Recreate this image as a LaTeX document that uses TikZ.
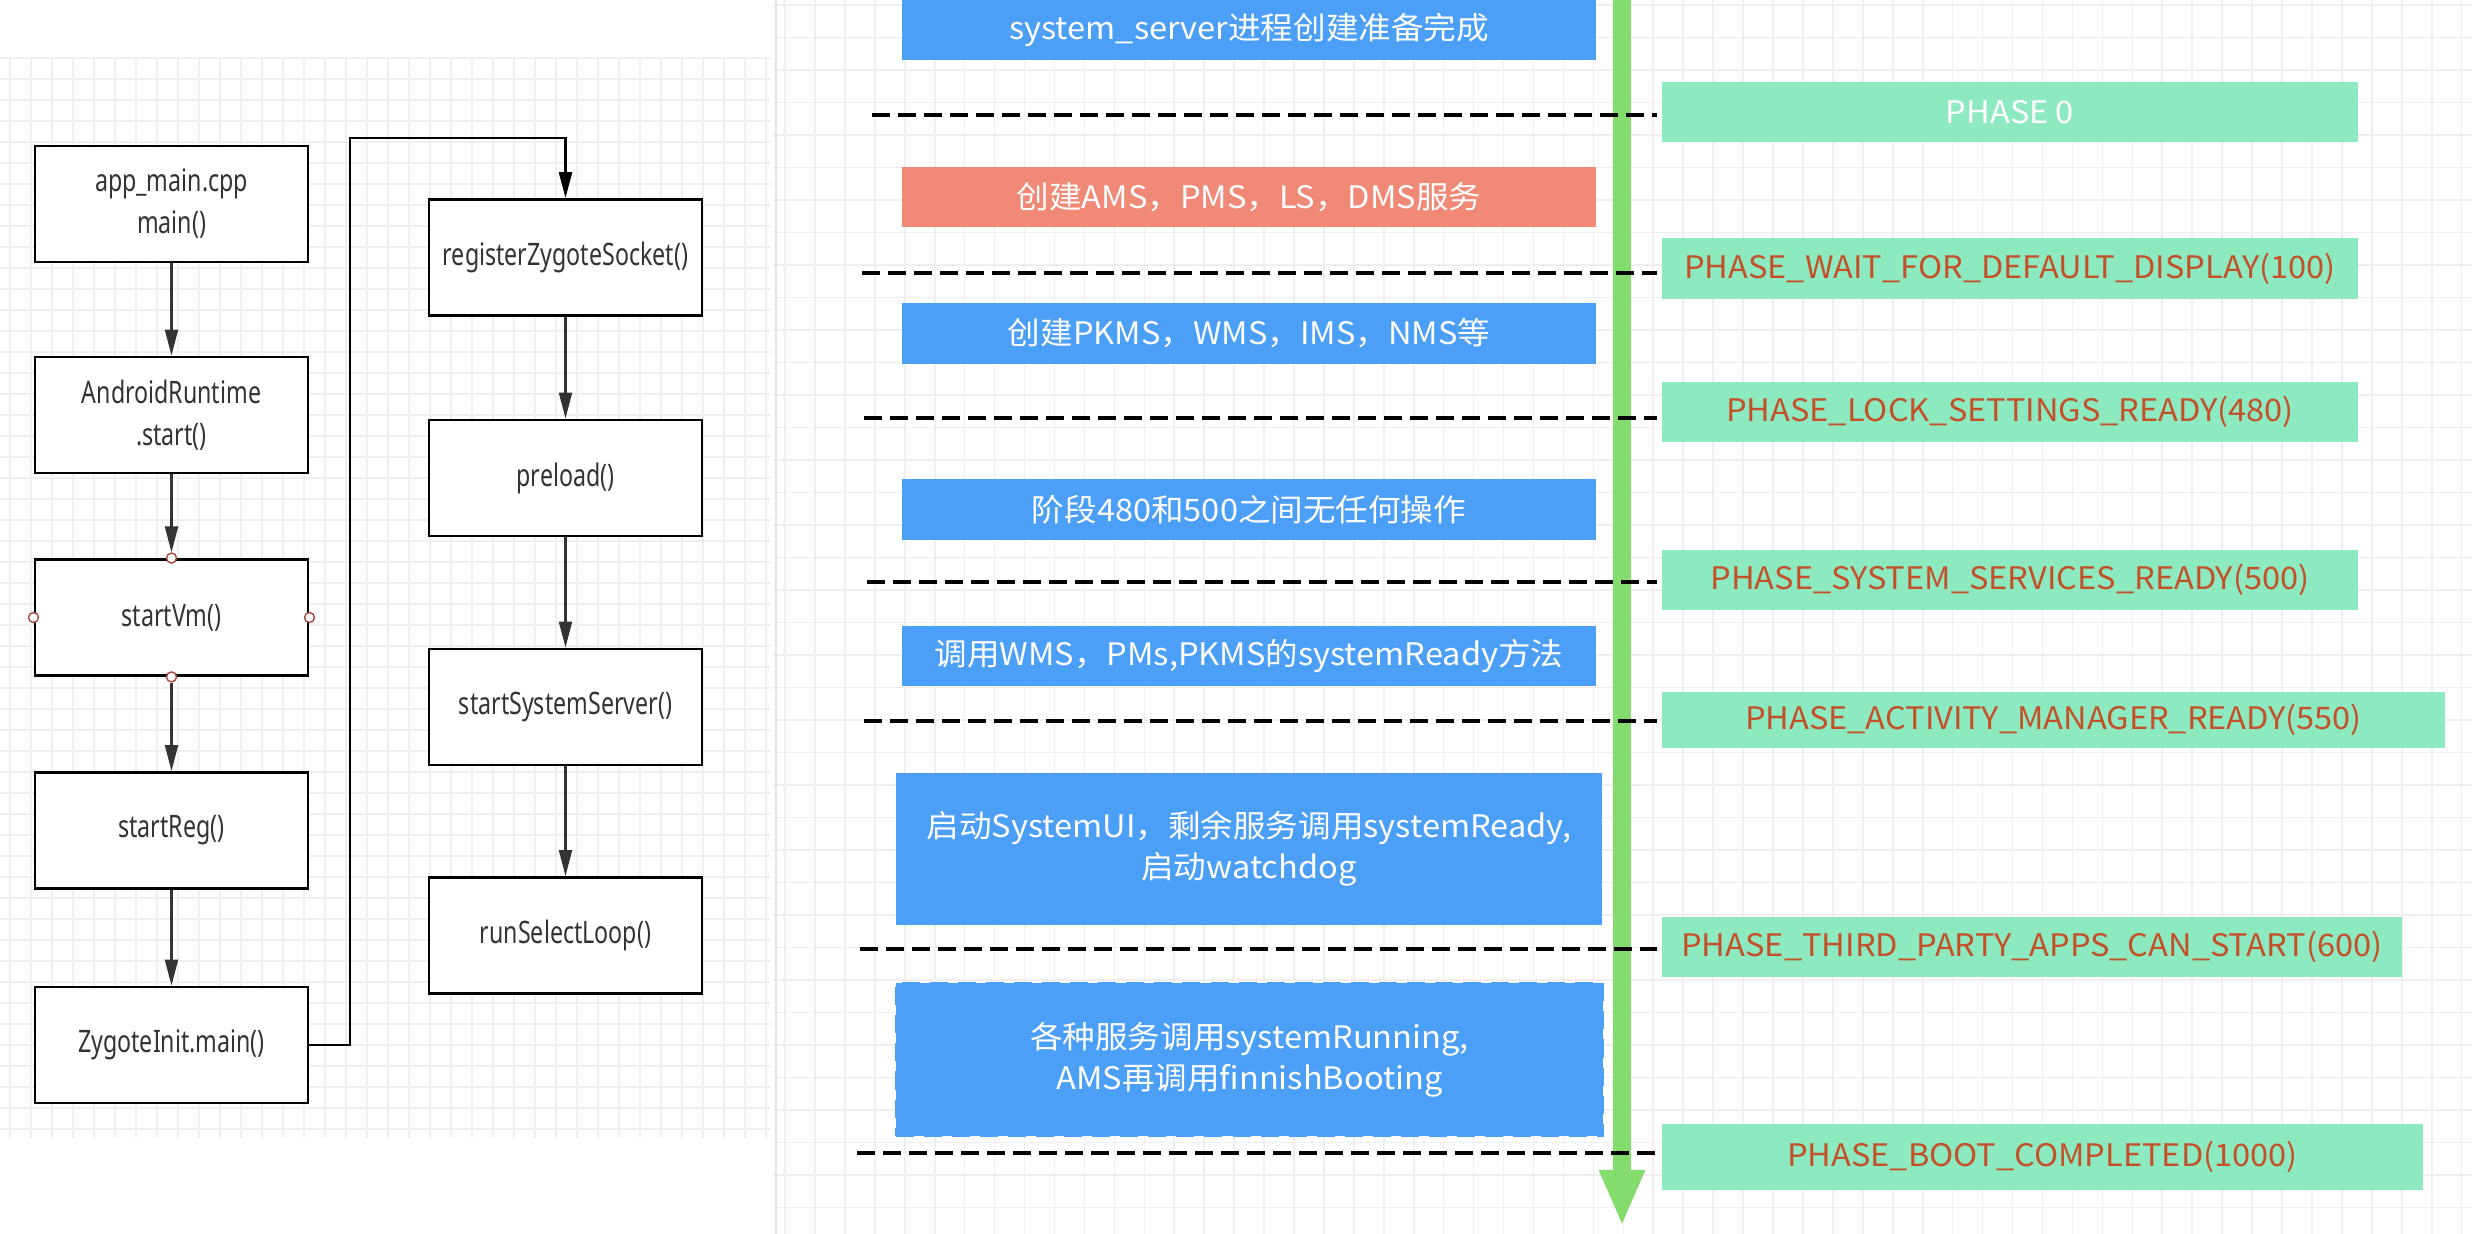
\documentclass[tikz,border=0pt]{standalone}
\usepackage{fontspec}
\usetikzlibrary{arrows.meta,calc}
\newfontfamily\myLfont{Noto Sans}[FakeStretch=0.75]
\newfontfamily\myRfont{Noto Sans CJK SC}[FakeStretch=1.05]
\newcommand\myLeftFont{\myLfont\fontsize{8.8}{11.95}\selectfont}
\newcommand\myRightFont{\myRfont\fontsize{8.82}{11.66}\selectfont}
\definecolor{bluebox}{HTML}{4C9FF7}
\definecolor{redbox}{HTML}{F08A76}
\definecolor{mint}{HTML}{8DE9C0}
\definecolor{greenline}{HTML}{84DC6C}
\definecolor{phtext}{HTML}{C4502A}
\definecolor{darktext}{HTML}{333333}
\definecolor{gridminor}{HTML}{EFEFEF}
\definecolor{gridsep}{HTML}{E4E4E4}
\definecolor{portc}{HTML}{A9483C}
\begin{document}
\begin{tikzpicture}[x=0.01cm,y=-0.01cm,
  gridline/.style={draw=gridminor,line width=0.45pt},
  lbox/.style={draw=black,line width=0.8pt,fill=white,minimum width=2.73cm,minimum height=1.16cm,inner sep=0pt,align=center,text=darktext,font=\myLeftFont},
  port/.style={circle,draw=portc,fill=white,minimum size=0.1cm,inner sep=0pt,line width=0.4pt},
  larrow/.style={draw=darktext,line width=0.6pt,-{Triangle[length=0.26cm,width=0.13cm]}},
  rbox/.style={fill=bluebox,text=white,inner sep=0pt,align=center,font=\myRightFont},
  redrbox/.style={rbox,fill=redbox},
  bsize/.style={minimum width=6.94cm,minimum height=0.6cm},
  phbox/.style={fill=mint,text=phtext,inner sep=0pt,align=center,font=\myRightFont,minimum height=0.6cm},
  phdash/.style={draw=black,line width=0.95pt,dash pattern=on 0.18cm off 0.08cm}
]
\useasboundingbox (0,0) rectangle (2472,1234);
\fill[white] (0,0) rectangle (2472,1234);
% left grid
\foreach \k in {0,...,36} \draw[gridline] ({10+21*\k},58) -- ({10+21*\k},1138);
\foreach \k in {0,...,51} \draw[gridline] (0,{58+21*\k}) -- (770,{58+21*\k});
% right grid
\foreach \k in {0,...,56} \draw[gridline] ({785+29.94*\k},0) -- ({785+29.94*\k},1234);
\foreach \k in {0,...,37} \draw[gridline] (773,{5+32.5*\k}) -- (2472,{5+32.5*\k});
\draw[draw=gridsep,line width=0.6pt] (776,0) -- (776,1234);

% left flow
\node[lbox] (app) at (171.5,204) {app\_main.cpp\\main()};
\node[lbox] (art) at (171.5,415) {AndroidRuntime\\.start()};
\node[lbox] (vm) at (171.5,617.5) {startVm()};
\node[lbox] (reg) at (171.5,830.5) {startReg()};
\node[lbox] (zi) at (171.5,1045) {ZygoteInit.main()};
\node[lbox] (rzs) at (565.5,257.5) {registerZygoteSocket()};
\node[lbox] (pre) at (565.5,478) {preload()};
\node[lbox] (sss) at (565.5,707) {startSystemServer()};
\node[lbox] (rsl) at (565.5,935.5) {runSelectLoop()};
\node[port] (vmN) at (vm.north) {};
\node[port] (vmS) at (vm.south) {};
\node[port] (vmE) at (vm.east) {};
\node[port] (vmW) at (vm.west) {};
\coordinate (loopA) at (350,138);

\draw[larrow] (app) -- (art);
\draw[larrow] (art) -- (vmN);
\draw[larrow] (vmS) -- (reg);
\draw[larrow] (reg) -- (zi);
\draw[larrow,draw=black,line width=0.75pt] (zi.east) -| (loopA) -| (rzs.north);
\draw[larrow] (rzs) -- (pre);
\draw[larrow] (pre) -- (sss);
\draw[larrow] (sss) -- (rsl);

% timeline arrow
\coordinate (gtop) at (1622,-5);
\coordinate (gbot) at (1622,1226);
\draw[greenline,line width=0.18cm,-{Triangle[length=0.56cm,width=0.42cm]}] (gtop) -- (gbot);

% blue / red steps
\node[rbox,bsize] (b1) at (1249,30) {system\_server进程创建准备完成};
\node[redrbox,bsize] (b2) at (1249,197) {创建AMS，PMS，LS，DMS服务};
\node[rbox,bsize] (b3) at (1249,333.5) {创建PKMS，WMS，IMS，NMS等};
\node[rbox,bsize] (b4) at (1249,509.5) {阶段480和500之间无任何操作};
\node[rbox,bsize] (b5) at (1249,656) {调用WMS，PMs,PKMS的systemReady方法};
\node[rbox,minimum width=7.06cm,minimum height=1.52cm] (b6) at (1249,849) {启动SystemUI，剩余服务调用systemReady,\\启动watchdog};
\node[rbox,draw=bluebox,line width=1pt,dash pattern=on 0.18cm off 0.1cm,minimum width=7.06cm,minimum height=1.52cm] (b7) at (1249.5,1059.5) {各种服务调用systemRunning,\\AMS再调用finnishBooting};

% phases
\node[phbox,text=white,minimum width=6.96cm] (p0) at (2010,112) {PHASE 0};
\node[phbox,minimum width=6.96cm,minimum height=0.61cm] (p1) at (2010,268.5) {PHASE\_WAIT\_FOR\_DEFAULT\_DISPLAY(100)};
\node[phbox,minimum width=6.96cm] (p2) at (2010,412) {PHASE\_LOCK\_SETTINGS\_READY(480)};
\node[phbox,minimum width=6.96cm] (p3) at (2010,580) {PHASE\_SYSTEM\_SERVICES\_READY(500)};
\node[phbox,minimum width=7.83cm,minimum height=0.56cm] (p4) at (2053.5,720) {PHASE\_ACTIVITY\_MANAGER\_READY(550)};
\node[phbox,minimum width=7.40cm] (p5) at (2032,947) {PHASE\_THIRD\_PARTY\_APPS\_CAN\_START(600)};
\node[phbox,minimum width=7.61cm,minimum height=0.66cm] (p6) at (2042.5,1157) {PHASE\_BOOT\_COMPLETED(1000)};

% dashed phase separators
\coordinate (d0) at (872,115);
\coordinate (d1) at (862,273);
\coordinate (d2) at (864,418);
\coordinate (d3) at (867,582);
\coordinate (d4) at (864,721);
\coordinate (d5) at (860,949);
\coordinate (d6) at (857,1153);
\draw[phdash] (d0) -- ([xshift=-0.04cm]d0 -| p0.west);
\draw[phdash] (d1) -- ([xshift=-0.04cm]d1 -| p1.west);
\draw[phdash] (d2) -- ([xshift=-0.04cm]d2 -| p2.west);
\draw[phdash] (d3) -- ([xshift=-0.04cm]d3 -| p3.west);
\draw[phdash] (d4) -- ([xshift=-0.04cm]d4 -| p4.west);
\draw[phdash] (d5) -- ([xshift=-0.04cm]d5 -| p5.west);
\draw[phdash] (d6) -- ([xshift=-0.04cm]d6 -| p6.west);
\end{tikzpicture}
\end{document}
